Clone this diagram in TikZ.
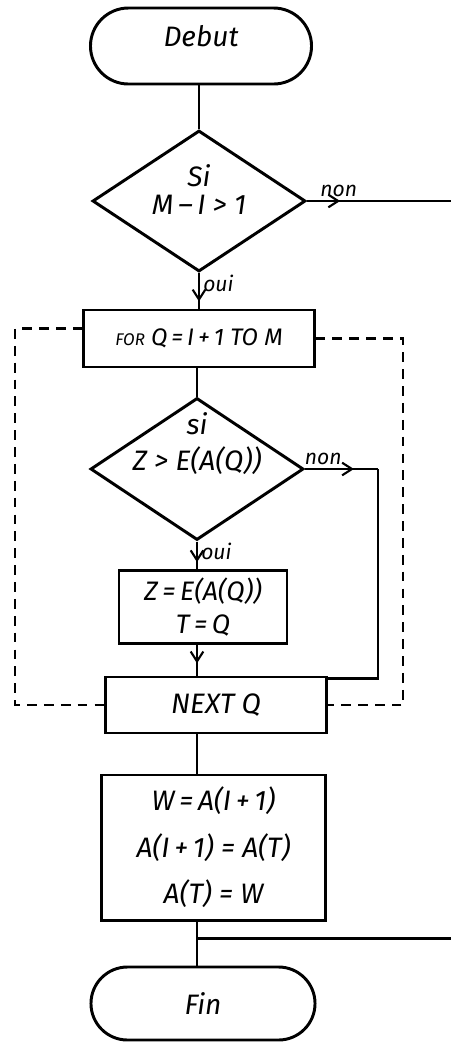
\documentclass[tikz,border=0pt]{standalone}
\usepackage{fontspec}
\setmainfont{Fira Sans}
\usetikzlibrary{shapes.geometric,shapes.misc,arrows.meta,decorations.markings,calc}
\newcommand\dtext[2]{\smash{\raisebox{#1}{\makebox[0pt]{#2}}}}
\begin{document}
\begin{tikzpicture}[x=0.025cm,y=-0.025cm,
  every node/.style={font=\itshape},
  conn/.style={line width=2.1pt},
  term/.style={draw, line width=2.1pt, rounded rectangle, inner sep=0pt, font=\itshape\fontsize{20}{24}\selectfont},
  proc/.style={draw, line width=2.1pt, rectangle, inner sep=0pt, align=center},
  dec/.style={draw, line width=2.1pt, diamond, inner sep=0pt},
  lbl/.style={font=\itshape\fontsize{15}{16}\selectfont, inner sep=2pt},
  marr/.style={postaction={decorate}, decoration={markings, mark=at position #1 with {\arrow{Straight Barb[length=7pt,width=9pt,line width=1.5pt]}}}},
  loopline/.style={line width=2.1pt, dash pattern=on 7pt off 5pt}]
\useasboundingbox (0,0) rectangle (451,1042);

\node[term, minimum width=5.525cm, minimum height=1.9cm] (debut) at (201,46) {\smash{Debut}};
\node[dec, minimum width=5.325cm, minimum height=3.525cm] (d1) at (199,201)
  {\dtext{0cm}{\fontsize{20}{20}\selectfont\begin{tabular}{@{}c@{}}Si\\ M\,--\,I > 1\end{tabular}}};
\node[proc, minimum width=5.75cm, minimum height=1.425cm, font=\itshape\fontsize{17}{20}\selectfont] (for) at (199,338.5)
  {{\fontsize{12}{14}\selectfont FOR} Q\,=\,I\,+\,1 TO M};
\node[dec, minimum width=5.325cm, minimum height=3.55cm] (d2) at (197,469)
  {\dtext{0.4cm}{\fontsize{20}{25.5}\selectfont\begin{tabular}{@{}c@{}}si\\ Z > E(A(Q))\end{tabular}}};
\node[proc, minimum width=4.2cm, minimum height=1.825cm, font=\itshape\fontsize{19}{23}\selectfont] (z) at (203,607)
  {Z\,=\,E(A(Q))\\ T\,=\,Q};
\node[proc, minimum width=5.5cm, minimum height=1.4cm, font=\itshape\fontsize{20}{22}\selectfont] (next) at (216,705)
  {NEXT Q};
\node[proc, minimum width=5.575cm, minimum height=3.625cm, font=\itshape\fontsize{20}{33}\selectfont] (w) at (213.5,847.5)
  {W\,=\,A(I\,+\,1)\\ A(I\,+\,1) = A(T)\\ A(T) = W};
\node[term, minimum width=5.6cm, minimum height=1.825cm] (fin) at (203,1003.5) {Fin};

\coordinate (edge) at (451,0);
\coordinate (ll) at (15,0);
\coordinate (lr) at (403,0);
\coordinate (nr) at (378,0);
\coordinate (nin) at ([yshift=-0.075cm]next.north east);
\coordinate (fl) at ([yshift=0.24cm]for.west);

\draw[conn] (d1.north |- debut.south) -- (d1.north);
\draw[conn, marr=0.8] (d1.south) -- (d1.south |- for.north) node[lbl, right, pos=0.3] {oui};
\draw[conn, marr=0.23] (d1.east) -- (d1.east -| edge) node[lbl, above, pos=0.22] {non};
\draw[conn] (d2.north |- for.south) -- (d2.north);
\draw[conn, marr=0.75] (d2.south) -- (d2.south |- z.north) node[lbl, right, pos=0.35] {oui};
\draw[conn, marr=0.67] (d2.east) -- (d2.east -| nr) node[lbl, above, pos=0.25] {non};
\draw[conn] (d2.east -| nr) -- (nr |- nin) -- (nin);
\draw[conn, marr=0.6] (d2.south |- z.south) -- (d2.south |- next.north);
\draw[conn] (d2.south |- next.south) -- (d2.south |- w.north);
\draw[conn] (d2.south |- w.south) -- coordinate[pos=0.38] (j) (d2.south |- fin.north);
\draw[conn] (j) -- (j -| edge);
\draw[loopline] (fl) -- (fl -| ll) -- (ll |- next.west) -- (next.west);
\draw[loopline] (for.east) -- (for.east -| lr) -- (lr |- next.east) -- (next.east);
\end{tikzpicture}
\end{document}
